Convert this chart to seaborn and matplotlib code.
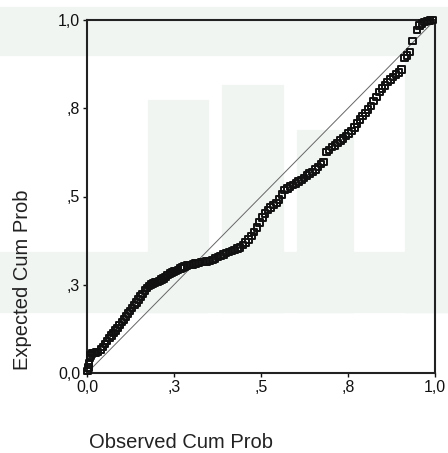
import numpy as np
import pandas as pd
import seaborn as sns
import matplotlib.pyplot as plt
from matplotlib.patches import Rectangle

# observed vs expected cumulative probability
observed = [0.002, 0.004, 0.006, 0.008, 0.010, 0.014, 0.020, 0.026, 0.032,
            0.040, 0.046, 0.052, 0.058, 0.064, 0.070, 0.076, 0.082, 0.088, 0.094,
            0.100, 0.106, 0.112, 0.118, 0.124, 0.130, 0.136, 0.142, 0.148, 0.154,
            0.160, 0.166, 0.172, 0.178, 0.184, 0.190, 0.196, 0.202, 0.208, 0.214,
            0.220, 0.226, 0.232, 0.238, 0.244, 0.250, 0.256, 0.262, 0.268, 0.274,
            0.280, 0.288, 0.296, 0.304, 0.312, 0.320, 0.328, 0.336, 0.344, 0.352,
            0.360, 0.368, 0.376, 0.384, 0.392, 0.400, 0.408, 0.416, 0.424, 0.432,
            0.440, 0.448, 0.456, 0.464, 0.472, 0.480, 0.488, 0.496, 0.504, 0.512,
            0.520, 0.528, 0.536, 0.544, 0.552, 0.560, 0.568, 0.576, 0.584, 0.592,
            0.600, 0.608, 0.616, 0.624, 0.632, 0.640, 0.648, 0.656, 0.664, 0.672,
            0.680, 0.688, 0.696, 0.704, 0.712, 0.720, 0.728, 0.736, 0.744, 0.752,
            0.760, 0.768, 0.776, 0.784, 0.792, 0.800, 0.808, 0.816, 0.824, 0.832,
            0.840, 0.848, 0.856, 0.864, 0.872, 0.880, 0.888, 0.896, 0.904, 0.912,
            0.920, 0.928, 0.936, 0.948, 0.955, 0.962, 0.970, 0.978, 0.986, 0.994]
expected = [0.005, 0.015, 0.028, 0.042, 0.050, 0.055, 0.057, 0.058, 0.060,
            0.066, 0.074, 0.082, 0.090, 0.099, 0.106, 0.114, 0.121, 0.128, 0.136,
            0.144, 0.152, 0.160, 0.168, 0.176, 0.184, 0.192, 0.200, 0.208, 0.216,
            0.224, 0.233, 0.241, 0.246, 0.250, 0.253, 0.256, 0.258, 0.261, 0.265,
            0.268, 0.272, 0.277, 0.282, 0.285, 0.287, 0.289, 0.292, 0.296, 0.299,
            0.302, 0.304, 0.306, 0.308, 0.310, 0.312, 0.314, 0.315, 0.316, 0.317,
            0.320, 0.324, 0.328, 0.332, 0.336, 0.340, 0.343, 0.346, 0.349, 0.352,
            0.356, 0.362, 0.370, 0.378, 0.388, 0.400, 0.412, 0.426, 0.440, 0.452,
            0.462, 0.469, 0.476, 0.482, 0.492, 0.506, 0.518, 0.523, 0.528, 0.532,
            0.537, 0.542, 0.547, 0.553, 0.559, 0.565, 0.570, 0.576, 0.584, 0.592,
            0.598, 0.626, 0.632, 0.640, 0.645, 0.652, 0.658, 0.664, 0.671, 0.678,
            0.686, 0.696, 0.707, 0.718, 0.728, 0.737, 0.746, 0.757, 0.770, 0.782,
            0.796, 0.806, 0.815, 0.825, 0.832, 0.839, 0.846, 0.852, 0.860, 0.892,
            0.900, 0.910, 0.940, 0.972, 0.984, 0.990, 0.994, 0.997, 0.999, 1.000]

tick_pos = [0, 0.25, 0.5, 0.75, 1.0]
tick_labels = ["0,0", ",3", ",5", ",8", "1,0"]

df = pd.DataFrame({"Observed Cum Prob": observed, "Expected Cum Prob": expected})

sns.set_style("ticks")
plt.rcParams['font.family'] = ['Liberation Sans', 'DejaVu Sans']

fig = plt.figure(figsize=(4.48, 4.53), dpi=100)

# faint watermark behind the plot (figure pixels, top-left origin)
wm = "#f0f5f2"
for x0, y0, w, h in [(0, 7, 448, 48), (0, 252, 448, 60), (148, 100, 60, 212),
                     (222, 85, 61, 227), (297, 130, 56, 182), (405, 50, 43, 262)]:
    fig.patches.append(Rectangle((x0 / 448, 1 - (y0 + h) / 453), w / 448, h / 453,
                                 transform=fig.transFigure, color=wm, zorder=-5))

ax = fig.add_axes([87 / 448, 1 - 373 / 453, 348 / 448, 353 / 453])
ax.set_facecolor("none")

ax.axline((0, 0), slope=1, color="#666666", lw=0.7, zorder=1)
sns.scatterplot(data=df, x="Observed Cum Prob", y="Expected Cum Prob", ax=ax,
                marker="s", s=22, facecolor="none", edgecolor="#111111",
                linewidth=1.4, clip_on=False, zorder=3)

ax.set_xlim(0, 1)
ax.set_ylim(0, 1)
ax.set_xticks(tick_pos)
ax.set_xticklabels(tick_labels)
ax.set_yticks(tick_pos)
ax.set_yticklabels(tick_labels)
ax.tick_params(direction="out", length=3, width=1, labelsize=11.5, colors="#111111", pad=2)
ax.set_xlabel("")
ax.set_ylabel("")
for sp in ax.spines.values():
    sp.set_visible(True)
    sp.set_linewidth(1.5)
    sp.set_color("#222222")

fig.text(22 / 448, 1 - 280 / 453, "Expected Cum Prob", rotation=90,
         ha="center", va="center", fontsize=14.5, color="#222222")
fig.text(181 / 448, 1 - 443 / 453, "Observed Cum Prob",
         ha="center", va="center", fontsize=14.5, color="#222222")

fig.savefig("out.png", dpi=100)
